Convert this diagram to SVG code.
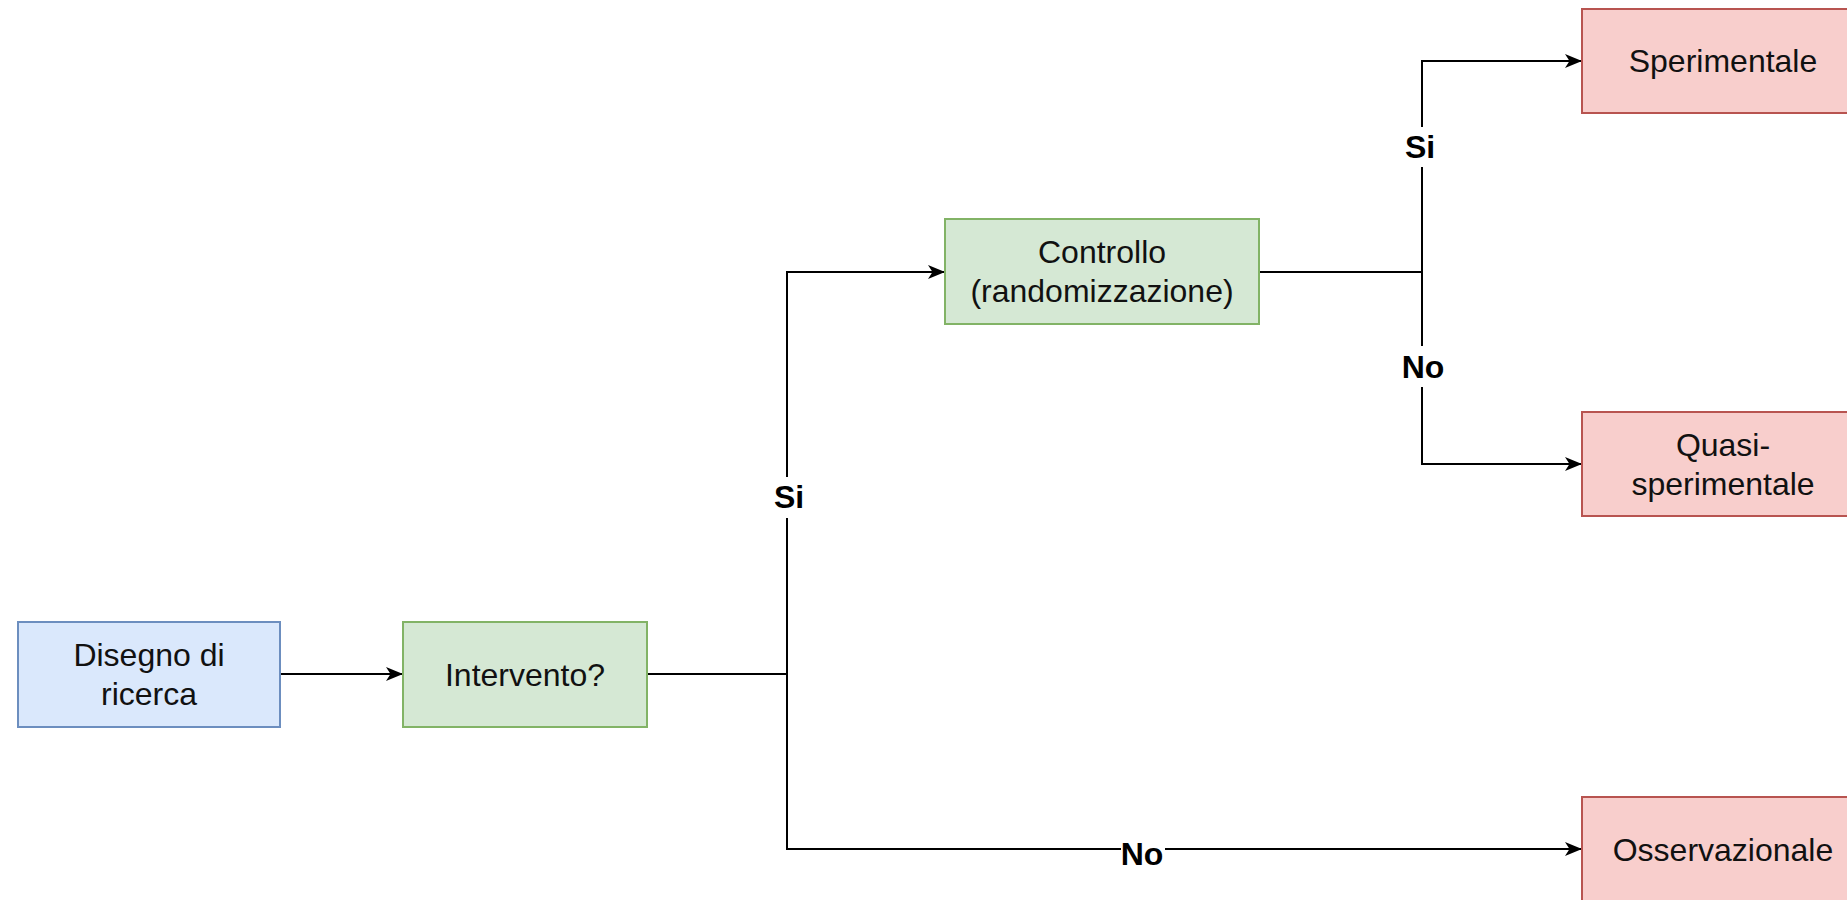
<svg xmlns="http://www.w3.org/2000/svg" width="1847" height="900" viewBox="0 0 1847 900">
  <defs>
    <marker id="arrow" markerUnits="userSpaceOnUse" markerWidth="18" markerHeight="14" refX="17" refY="7" orient="auto">
      <path d="M0,0 L17,7 L0,14 L4.5,7 Z" fill="#000"/>
    </marker>
    <style>
      .box { stroke-width: 2; }
      .blue { fill: #dae8fc; stroke: #6c8ebf; }
      .green { fill: #d5e8d4; stroke: #82b366; }
      .red { fill: #f8cecc; stroke: #b85450; }
      .txt { font-family: "Liberation Sans", Arial, sans-serif; font-size: 32px; fill: #111; text-anchor: middle; }
      .edge { fill: none; stroke: #000; stroke-width: 2; }
      .lbl { font-family: "Liberation Sans", Arial, sans-serif; font-size: 32px; font-weight: bold; fill: #000; text-anchor: middle; }
      .lblbg { fill: #fff; }
    </style>
  </defs>
  <rect width="1847" height="900" fill="#fff"/>

  <g id="connectors">
    <path class="edge" d="M280,674 H403" marker-end="url(#arrow)"/>
    <path class="edge" d="M647,674 H787 V272 H945" marker-end="url(#arrow)"/>
    <path class="edge" d="M787,674 V849 H1582" marker-end="url(#arrow)"/>
    <path class="edge" d="M1259,272 H1422 V61 H1582" marker-end="url(#arrow)"/>
    <path class="edge" d="M1422,272 V464 H1582" marker-end="url(#arrow)"/>

    <rect class="lblbg" x="770" y="477" width="36" height="41"/>
    <text class="lbl" x="789" y="508">Si</text>

    <rect class="lblbg" x="1121" y="836" width="44" height="30"/>
    <text class="lbl" x="1142" y="865">No</text>

    <rect class="lblbg" x="1403" y="127" width="36" height="40"/>
    <text class="lbl" x="1420" y="158">Si</text>

    <rect class="lblbg" x="1400" y="346" width="44" height="41"/>
    <text class="lbl" x="1423" y="378">No</text>
  </g>

  <g id="node-disegno">
    <rect class="box blue" x="18" y="622" width="262" height="105"/>
    <text class="txt" x="149" y="666">Disegno di</text>
    <text class="txt" x="149" y="705">ricerca</text>
  </g>

  <g id="node-intervento">
    <rect class="box green" x="403" y="622" width="244" height="105"/>
    <text class="txt" x="525" y="686">Intervento?</text>
  </g>

  <g id="node-controllo">
    <rect class="box green" x="945" y="219" width="314" height="105"/>
    <text class="txt" x="1102" y="263">Controllo</text>
    <text class="txt" x="1102" y="302">(randomizzazione)</text>
  </g>

  <g id="node-sperimentale">
    <rect class="box red" x="1582" y="9" width="282" height="104"/>
    <text class="txt" x="1723" y="72">Sperimentale</text>
  </g>

  <g id="node-quasi">
    <rect class="box red" x="1582" y="412" width="282" height="104"/>
    <text class="txt" x="1723" y="456">Quasi-</text>
    <text class="txt" x="1723" y="495">sperimentale</text>
  </g>

  <g id="node-osservazionale">
    <rect class="box red" x="1582" y="797" width="282" height="105"/>
    <text class="txt" x="1723" y="861">Osservazionale</text>
  </g>
</svg>
